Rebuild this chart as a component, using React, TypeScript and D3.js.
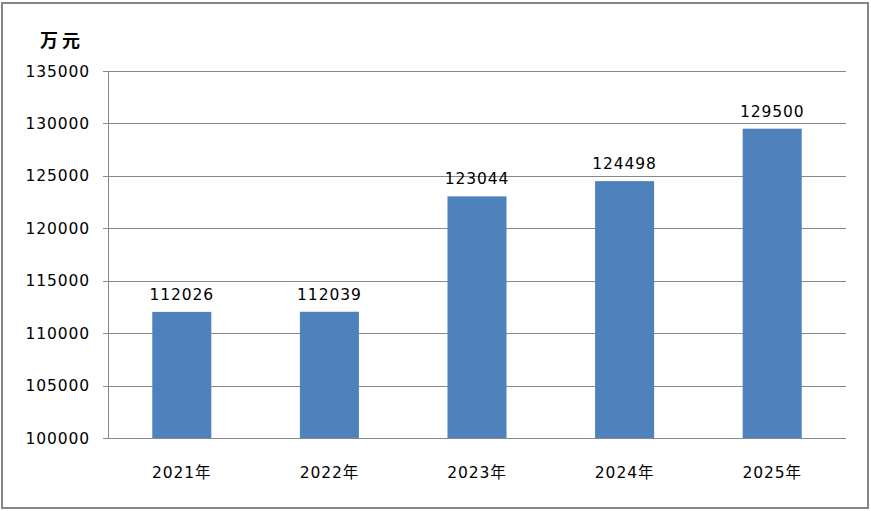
import { useEffect, useRef } from 'react';
import * as d3 from 'd3';

const years = ['2021年', '2022年', '2023年', '2024年', '2025年'];
const values = [112026, 112039, 123044, 124498, 129500];
const yTicks = [100000, 105000, 110000, 115000, 120000, 125000, 130000, 135000];
const unitLabel = '万元';

export default function App() {
  const svgRef = useRef<SVGSVGElement>(null);
  const width = 871;
  const height = 511;

  useEffect(() => {
    if (!svgRef.current) return;
    const svg = d3.select(svgRef.current);
    svg.selectAll('*').remove();

    const margin = { top: 71, right: 25, bottom: 73, left: 108 };
    const innerWidth = width - margin.left - margin.right;
    const innerHeight = height - margin.top - margin.bottom;
    const font = '"DejaVu Sans", "Noto Sans CJK SC", sans-serif';

    svg
      .append('rect')
      .attr('x', 2)
      .attr('y', 3)
      .attr('width', 866)
      .attr('height', 505)
      .attr('fill', '#fff')
      .attr('stroke', '#868686')
      .attr('stroke-width', 2);

    const g = svg
      .append('g')
      .attr('transform', `translate(${margin.left},${margin.top})`);

    const x = d3
      .scaleBand()
      .domain(years)
      .range([0, innerWidth])
      .paddingInner(0.6)
      .paddingOuter(0.3);
    const y = d3.scaleLinear().domain([100000, 135000]).range([innerHeight, 0]);

    // gridlines + tick marks
    g.selectAll('line.grid')
      .data(yTicks)
      .join('line')
      .attr('class', 'grid')
      .attr('x1', -5)
      .attr('x2', innerWidth)
      .attr('y1', (d) => Math.round(y(d)) + 0.5)
      .attr('y2', (d) => Math.round(y(d)) + 0.5)
      .attr('stroke', '#888')
      .attr('stroke-width', 1);

    g.append('line')
      .attr('x1', 0.5)
      .attr('x2', 0.5)
      .attr('y1', 0)
      .attr('y2', innerHeight)
      .attr('stroke', '#888');

    g.selectAll('text.ytick')
      .data(yTicks)
      .join('text')
      .attr('class', 'ytick')
      .attr('x', -18)
      .attr('y', (d) => y(d))
      .attr('dy', '0.36em')
      .attr('text-anchor', 'end')
      .attr('font-family', font)
      .attr('font-size', 15.5)
      .attr('letter-spacing', 0.9)
      .attr('fill', '#000')
      .text((d) => d);

    g.selectAll('rect.bar')
      .data(values)
      .join('rect')
      .attr('class', 'bar')
      .attr('x', (_, i) => x(years[i]) ?? 0)
      .attr('width', x.bandwidth())
      .attr('y', (d) => y(d))
      .attr('height', (d) => innerHeight - y(d))
      .attr('fill', '#4F81BD');

    g.selectAll('text.value')
      .data(values)
      .join('text')
      .attr('class', 'value')
      .attr('x', (_, i) => (x(years[i]) ?? 0) + x.bandwidth() / 2)
      .attr('y', (d) => y(d) - 12)
      .attr('text-anchor', 'middle')
      .attr('font-family', font)
      .attr('font-size', 15.5)
      .attr('letter-spacing', 0.9)
      .attr('fill', '#000')
      .text((d) => d);

    g.selectAll('text.xtick')
      .data(years)
      .join('text')
      .attr('class', 'xtick')
      .attr('x', (d) => (x(d) ?? 0) + x.bandwidth() / 2)
      .attr('y', innerHeight + 40)
      .attr('text-anchor', 'middle')
      .attr('font-family', font)
      .attr('font-size', 15.5)
      .attr('letter-spacing', 0.9)
      .attr('fill', '#000')
      .text((d) => d);

    svg
      .append('text')
      .attr('x', 62)
      .attr('y', 47)
      .attr('text-anchor', 'middle')
      .attr('font-family', '"Noto Sans CJK SC", sans-serif')
      .attr('font-weight', 'bold')
      .attr('font-size', 18)
      .attr('letter-spacing', 4)
      .attr('fill', '#000')
      .text(unitLabel);
  }, []);

  return (
    <svg
      ref={svgRef}
      width={width}
      height={height}
      style={{ position: 'absolute', left: 0, top: 0, display: 'block' }}
    />
  );
}
